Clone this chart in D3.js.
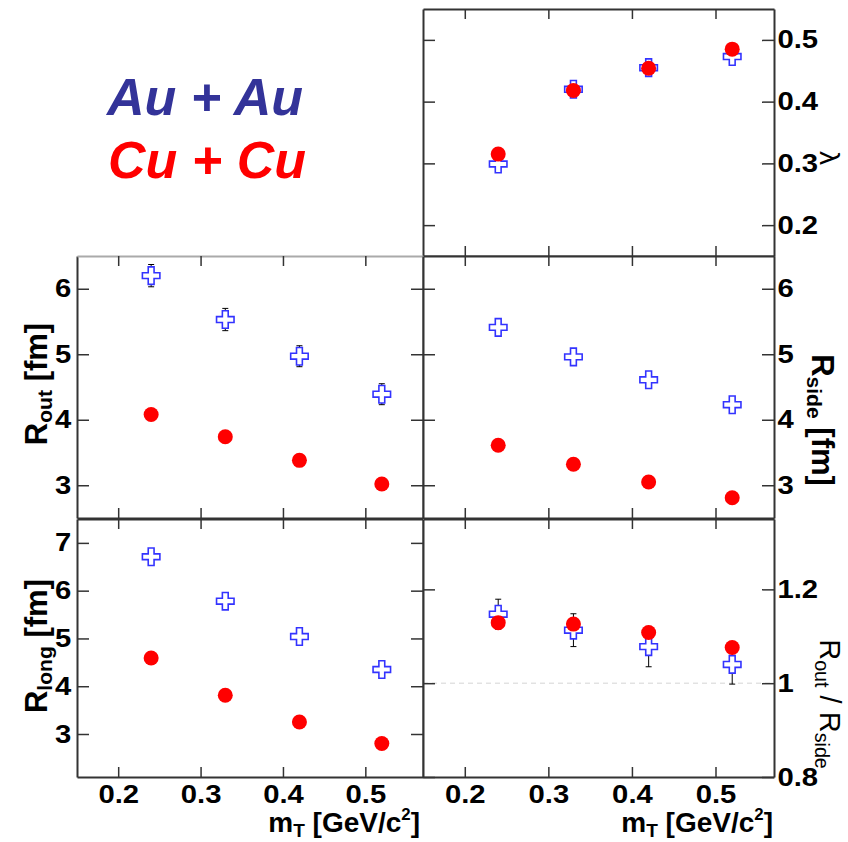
<!DOCTYPE html>
<html>
<head>
<meta charset="utf-8">
<script src="https://cdn.jsdelivr.net/npm/d3@7"></script>
<style>
  body { margin: 0; background: #fff; }
  text { font-family: "Liberation Sans", Arial, sans-serif; }
</style>
</head>
<body>
<svg id="chart" width="848" height="842"></svg>
<script>
// transverse mass bins
var mT = [0.24, 0.33, 0.42, 0.52];

// lambda
var lambdaAu = [0.299, 0.420, 0.455, 0.473];
var lambdaCu = [0.315, 0.418, 0.454, 0.485];

// R_out [fm]
var routAu = [6.20, 5.53, 4.97, 4.39];
var routAuErr = [0.17, 0.17, 0.16, 0.16];
var routCu = [4.08, 3.74, 3.38, 3.02];

// R_side [fm]
var rsideAu = [5.41, 4.96, 4.61, 4.23];
var rsideCu = [3.61, 3.32, 3.05, 2.81];

// R_long [fm]
var rlongAu = [6.71, 5.78, 5.04, 4.35];
var rlongCu = [4.59, 3.81, 3.25, 2.80];

// R_out / R_side
var ratioAu = [1.147, 1.113, 1.078, 1.040];
var ratioAuErr = [0.032, 0.035, 0.043, 0.042];
var ratioCu = [1.129, 1.126, 1.108, 1.076];

var xTicks = [0.2, 0.3, 0.4, 0.5];

var svg = d3.select("#chart");
var frame = "#333";

var xLeft = d3.scaleLinear().domain([0.15, 0.57]).range([77, 423]);
var xRight = d3.scaleLinear().domain([0.15, 0.57]).range([423, 774]);

var panels = [
  {x: xRight, top: 9, bottom: 256, dom: [0.15, 0.55], yt: [0.2, 0.3, 0.4, 0.5], side: "right",
    au: lambdaAu, cu: lambdaCu, fmt: d3.format(".1f")},
  {x: xLeft, top: 256, bottom: 518, dom: [2.5, 6.5], yt: [3, 4, 5, 6], side: "left",
    au: routAu, auErr: routAuErr, cu: routCu, fmt: d3.format("d"), lightTop: true},
  {x: xRight, top: 256, bottom: 518, dom: [2.5, 6.5], yt: [3, 4, 5, 6], side: "right",
    au: rsideAu, cu: rsideCu, fmt: d3.format("d")},
  {x: xLeft, top: 519, bottom: 777, dom: [2.1, 7.5], yt: [3, 4, 5, 6, 7], side: "left",
    au: rlongAu, cu: rlongCu, fmt: d3.format("d"), xlab: true},
  {x: xRight, top: 519, bottom: 777, dom: [0.8, 1.35], yt: [0.8, 1, 1.2], side: "right",
    au: ratioAu, auErr: ratioAuErr, cu: ratioCu, fmt: function(d){ return d === 1 ? "1" : d3.format(".1f")(d); },
    xlab: true, unity: true}
];

var cross = d3.symbol().type(d3.symbolCross).size(170);

panels.forEach(function(p){
  var x = p.x;
  var y = d3.scaleLinear().domain(p.dom).range([p.bottom, p.top]);
  var x0 = x.range()[0], x1 = x.range()[1];
  var g = svg.append("g");

  g.append("rect").attr("x", x0).attr("y", p.top)
    .attr("width", x1 - x0).attr("height", p.bottom - p.top)
    .attr("fill", "#fff");

  if (p.unity) {
    g.append("line").attr("x1", x0).attr("x2", x1)
      .attr("y1", y(1)).attr("y2", y(1))
      .attr("stroke", "#d4d4d4").attr("stroke-width", 1).attr("stroke-dasharray", "5,4");
  }

  // inward ticks on all four sides
  var yl = g.append("g").attr("transform", "translate(" + x0 + ",0)")
    .call(d3.axisLeft(y).tickValues(p.yt).tickSize(-12).tickSizeOuter(0).tickPadding(5)
      .tickFormat(p.side === "left" ? p.fmt : ""));
  var yr = g.append("g").attr("transform", "translate(" + x1 + ",0)")
    .call(d3.axisRight(y).tickValues(p.yt).tickSize(-12).tickSizeOuter(0).tickPadding(3)
      .tickFormat(p.side === "right" ? p.fmt : ""));
  var xb = g.append("g").attr("transform", "translate(0," + p.bottom + ")")
    .call(d3.axisBottom(x).tickValues(xTicks).tickSize(-10).tickSizeOuter(0).tickPadding(8)
      .tickFormat(p.xlab ? d3.format(".1f") : ""));
  var xt = g.append("g").attr("transform", "translate(0," + p.top + ")")
    .call(d3.axisTop(x).tickValues(xTicks).tickSize(-10).tickSizeOuter(0).tickFormat(""));

  [yl, yr, xb, xt].forEach(function(a){
    a.selectAll("path.domain").attr("stroke", frame).attr("stroke-width", 2);
    a.selectAll(".tick line").attr("stroke", frame).attr("stroke-width", 1.5);
    a.selectAll(".tick text").attr("fill", "#000").attr("font-size", 25).attr("font-weight", "bold")
      .attr("font-family", "Liberation Sans, Arial, sans-serif")
      .attr("transform", "scale(1.17,1)");
  });
  if (p.lightTop) xt.select("path.domain").attr("stroke", "#aaa");

  // Au + Au: error bars then open crosses
  if (p.auErr) {
    var eb = g.append("g").attr("stroke", "#000").attr("stroke-width", 1);
    mT.forEach(function(m, i){
      var cx = x(m), hi = y(p.au[i] + p.auErr[i]), lo = y(p.au[i] - p.auErr[i]);
      eb.append("line").attr("x1", cx).attr("x2", cx).attr("y1", hi).attr("y2", lo);
      eb.append("line").attr("x1", cx - 3).attr("x2", cx + 3).attr("y1", hi).attr("y2", hi);
      eb.append("line").attr("x1", cx - 3).attr("x2", cx + 3).attr("y1", lo).attr("y2", lo);
    });
  }
  g.selectAll("path.au").data(p.au).enter().append("path")
    .attr("class", "au")
    .attr("d", cross)
    .attr("transform", function(d, i){ return "translate(" + x(mT[i]) + "," + y(d) + ")"; })
    .attr("fill", "#fff").attr("stroke", "#3333ff").attr("stroke-width", 1.6);

  // Cu + Cu: filled circles
  g.selectAll("circle.cu").data(p.cu).enter().append("circle")
    .attr("class", "cu")
    .attr("cx", function(d, i){ return x(mT[i]); })
    .attr("cy", function(d){ return y(d); })
    .attr("r", 7.5)
    .attr("fill", "#ff0000");
});

// axis titles
function subTitle(tx, ty, rot, parts, size, weight, anchor){
  var t = svg.append("text")
    .attr("transform", "translate(" + tx + "," + ty + ") rotate(" + rot + ")")
    .attr("text-anchor", anchor || "middle")
    .attr("font-size", size).attr("font-weight", weight).attr("fill", "#000");
  parts.forEach(function(s){
    var ts = t.append("tspan").text(s.t);
    if (s.sub) ts.attr("font-size", size * 0.68).attr("dy", 5);
    else if (s.sup) ts.attr("font-size", size * 0.6).attr("dy", -12);
    else if (s.back) ts.attr("dy", s.back);
  });
  return t;
}

subTitle(47, 384, -90, [{t: "R"}, {t: "out", sub: true}, {t: " [fm]", back: -5}], 31, "bold");
subTitle(47, 646, -90, [{t: "R"}, {t: "long", sub: true}, {t: " [fm]", back: -5}], 31, "bold");
subTitle(812, 420, 90, [{t: "R"}, {t: "side", sub: true}, {t: " [fm]", back: -5}], 31, "bold");
subTitle(820, 158, 90, [{t: "λ"}], 28, "normal");
subTitle(820, 704, 90, [{t: "R"}, {t: "out", sub: true}, {t: " / R", back: -5}, {t: "side", sub: true}], 29, "normal");
subTitle(420, 832, 0, [{t: "m"}, {t: "T", sub: true}, {t: " [GeV/c", back: -5}, {t: "2", sup: true}, {t: "]", back: 12}], 28, "bold", "end");
subTitle(773, 832, 0, [{t: "m"}, {t: "T", sub: true}, {t: " [GeV/c", back: -5}, {t: "2", sup: true}, {t: "]", back: 12}], 28, "bold", "end");

// legend
svg.append("text").attr("x", 205).attr("y", 115).attr("text-anchor", "middle")
  .attr("font-size", 52).attr("font-weight", "bold").attr("font-style", "italic")
  .attr("fill", "#333399").text("Au + Au");
svg.append("text").attr("x", 207).attr("y", 178).attr("text-anchor", "middle")
  .attr("font-size", 52).attr("font-weight", "bold").attr("font-style", "italic")
  .attr("fill", "#ff0000").text("Cu + Cu");
</script>
</body>
</html>
